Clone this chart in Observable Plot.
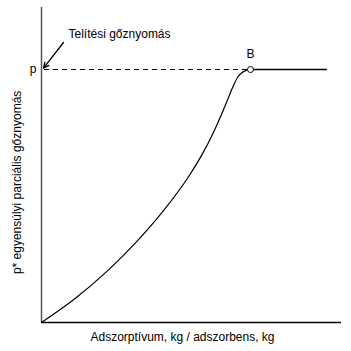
<!DOCTYPE html>
<html>
<head>
<meta charset="utf-8">
<script src="https://cdn.jsdelivr.net/npm/d3@7"></script>
<script src="https://cdn.jsdelivr.net/npm/@observablehq/plot@0.6"></script>
<style>
  html, body { margin: 0; padding: 0; background: #fff; }
  #chart svg { display: block; }
</style>
</head>
<body>
<div id="chart"></div>
<script>
// Isotherm curve (arbitrary units)
const curveX = [0, 10.67, 22, 31.33, 40.67, 48.67, 54, 57, 59.67, 62.33, 64, 65.33, 66.67, 68, 69.67];
const curveY = [0, 7.57, 17.2, 26.53, 37.27, 48.07, 56.87, 62.7, 68.57, 75, 79, 81.67, 83.17, 83.9, 84.33];
const pLevel = 84.33;      // saturation pressure level
const pointB = {x: 69.67, y: 84.33};
const flatEndX = 95.3;
const xLabel = "Adszorptívum, kg / adszorbens, kg";
const yLabel = "p* egyensúlyi parciális gőznyomás";
const annotation = "Telítési gőznyomás";

const curve = curveX.map((x, i) => ({x, y: curveY[i]}));
const font = "'Liberation Sans', Arial, Helvetica, sans-serif";

const chart = Plot.plot({
  width: 351,
  height: 351,
  marginLeft: 41,
  marginRight: 10,
  marginTop: 7,
  marginBottom: 29,
  x: {domain: [0, 100], axis: null},
  y: {domain: [0, 105], axis: null},
  style: {fontFamily: font, fontSize: "12px", background: "#fff", color: "#000"},
  marks: [
    Plot.ruleX([0], {stroke: "#555", strokeWidth: 1.5}),
    Plot.ruleY([0], {stroke: "#000", strokeWidth: 1.5}),
    Plot.ruleY([pLevel], {x1: 1, x2: pointB.x, stroke: "#000", strokeWidth: 1.2, strokeDasharray: "5,4"}),
    Plot.ruleY([pLevel], {x1: pointB.x, x2: flatEndX, stroke: "#000", strokeWidth: 1.3}),
    Plot.line(curve, {x: "x", y: "y", curve: "monotone-x", stroke: "#000", strokeWidth: 1.2}),
    Plot.dot([pointB], {x: "x", y: "y", r: 3, fill: "#fff", stroke: "#000", strokeWidth: 1}),
    Plot.text([pointB], {x: "x", y: d => d.y + 5, text: () => "B", fontSize: 12}),
    Plot.text([{x: -1.7, y: pLevel}], {x: "x", y: "y", text: () => "p", textAnchor: "end", fontSize: 12}),
    Plot.arrow([{x1: 7.33, y1: 93.33, x2: 0.67, y2: 84.8}], {x1: "x1", y1: "y1", x2: "x2", y2: "y2", stroke: "#000", strokeWidth: 1.3, headLength: 7, headAngle: 50}),
    Plot.text([{x: 9, y: 96}], {x: "x", y: "y", text: () => annotation, textAnchor: "start", fontSize: 12}),
    Plot.text([{x: 47, y: -5}], {x: "x", y: "y", text: () => xLabel, fontSize: 12}),
    Plot.text([{x: -8, y: 46.7}], {x: "x", y: "y", text: () => yLabel, rotate: -90, fontSize: 12})
  ]
});
document.getElementById("chart").appendChild(chart);
</script>
</body>
</html>
